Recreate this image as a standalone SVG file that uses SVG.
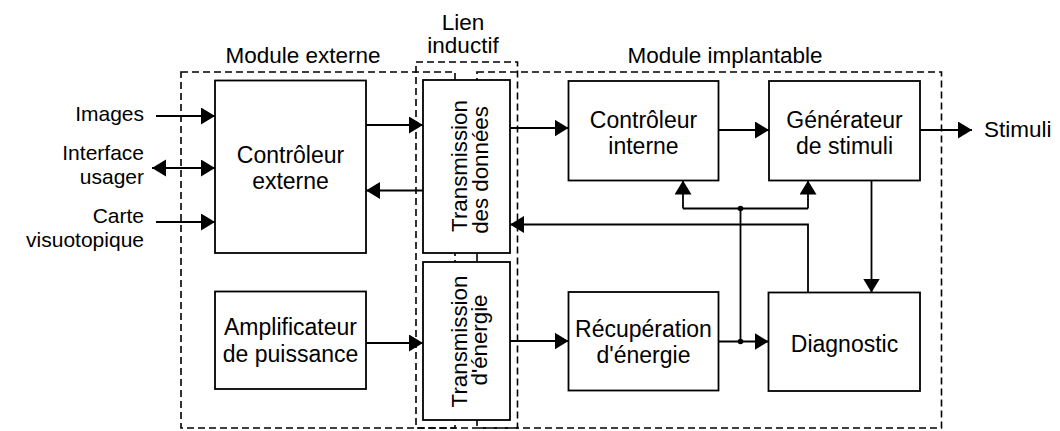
<svg xmlns="http://www.w3.org/2000/svg" width="1060" height="431" viewBox="0 0 1060 431">
<style>
  text { font-family: "Liberation Sans", Arial, Helvetica, sans-serif; font-size: 23px; fill: #000; }
  .lbl { font-size: 21px; }
  .hdr { font-size: 22.5px; }
  .rot { font-size: 22.3px; }
  .mid { text-anchor: middle; }
  .end { text-anchor: end; }
  .box { fill: #fff; stroke: #000; stroke-width: 1.8; }
  .dash { fill: none; stroke: #000; stroke-width: 1.6; stroke-dasharray: 7 4; }
  .wire { fill: none; stroke: #000; stroke-width: 1.8; }
  .arr { marker-end: url(#ah); }
  .dbl { marker-start: url(#ah); marker-end: url(#ah); }
</style>
<defs>
  <marker id="ah" markerUnits="userSpaceOnUse" markerWidth="15" markerHeight="18" refX="14" refY="8.5" orient="auto-start-reverse" viewBox="0 0 15 18">
    <path d="M0,0 L14,8.5 L0,17 Z" fill="#000"/>
  </marker>
</defs>
<rect width="1060" height="431" fill="#fff"/>

<g id="module-externe">
  <rect class="dash" x="181" y="72" width="274" height="356"/>
  <text class="hdr mid" x="303" y="62.5">Module externe</text>
</g>
<g id="module-implantable">
  <rect class="dash" x="477" y="72" width="464.5" height="356"/>
  <text class="hdr mid" x="725" y="62.5">Module implantable</text>
</g>
<g id="lien-inductif">
  <rect class="dash" x="416" y="62" width="101.5" height="366"/>
  <text class="hdr mid" x="463" y="29.5">Lien</text>
  <text class="hdr mid" x="463" y="53">inductif</text>
</g>

<g id="labels">
  <text class="lbl end" x="144" y="121">Images</text>
  <text class="lbl end" x="144" y="160">Interface</text>
  <text class="lbl end" x="144" y="183.5">usager</text>
  <text class="lbl end" x="144" y="223">Carte</text>
  <text class="lbl end" x="144" y="246.5">visuotopique</text>
  <text class="hdr" x="984" y="137">Stimuli</text>
</g>

<g id="connectors">
  <line class="wire arr" x1="156" y1="116" x2="215" y2="116"/>
  <line class="wire dbl" x1="152" y1="168" x2="215" y2="168"/>
  <line class="wire arr" x1="156" y1="222" x2="215" y2="222"/>
  <line class="wire arr" x1="366" y1="125" x2="423" y2="125"/>
  <line class="wire arr" x1="423" y1="190.5" x2="366" y2="190.5"/>
  <line class="wire arr" x1="510" y1="128" x2="568.5" y2="128"/>
  <line class="wire arr" x1="718.5" y1="130" x2="769" y2="130"/>
  <line class="wire arr" x1="920" y1="130" x2="972" y2="130"/>
  <line class="wire arr" x1="366" y1="343" x2="423" y2="343"/>
  <line class="wire arr" x1="510" y1="341" x2="568.5" y2="341"/>
  <line class="wire arr" x1="718.5" y1="341.5" x2="768.5" y2="341.5"/>
  <path class="wire" d="M740.5,341.5 L740.5,208.5 M683,208.5 L808,208.5"/>
  <path class="wire arr" d="M683,208.5 L683,180.5"/>
  <path class="wire arr" d="M808,208.5 L808,180.5"/>
  <path class="wire arr" d="M808,292.5 L808,224.5 L510,224.5"/>
  <path class="wire arr" d="M871.5,180.5 L871.5,292.5"/>
  <circle cx="740.5" cy="208.5" r="2.8" fill="#000"/>
  <circle cx="740.5" cy="341.5" r="2.8" fill="#000"/>
</g>

<g id="controleur-externe">
  <rect class="box" x="215" y="80.5" width="151" height="172.5"/>
  <text class="mid" x="290.5" y="162.5">Contrôleur</text>
  <text class="mid" x="290.5" y="188.5">externe</text>
</g>
<g id="amplificateur">
  <rect class="box" x="215" y="291.5" width="151" height="97.5"/>
  <text class="mid" x="290.5" y="335">Amplificateur</text>
  <text class="mid" x="290.5" y="361.5">de puissance</text>
</g>
<g id="transmission-donnees">
  <rect class="box" x="423" y="80" width="87" height="173"/>
  <text class="rot mid" transform="translate(466.5,166) rotate(-90)">Transmission</text>
  <text class="rot mid" transform="translate(488,170) rotate(-90)">des données</text>
</g>
<g id="transmission-energie">
  <rect class="box" x="423" y="262" width="87" height="158"/>
  <text class="rot mid" transform="translate(466.5,341.5) rotate(-90)">Transmission</text>
  <text class="rot mid" transform="translate(487,340) rotate(-90)">d'énergie</text>
</g>
<g id="controleur-interne">
  <rect class="box" x="568.5" y="81" width="150" height="99.5"/>
  <text class="mid" x="643.5" y="127.5">Contrôleur</text>
  <text class="mid" x="643.5" y="154">interne</text>
</g>
<g id="generateur">
  <rect class="box" x="769" y="81" width="151" height="99.5"/>
  <text class="mid" x="844.5" y="127.5">Générateur</text>
  <text class="mid" x="844.5" y="154">de stimuli</text>
</g>
<g id="recuperation">
  <rect class="box" x="568.5" y="292" width="150" height="98.5"/>
  <text class="mid" x="643.5" y="336.5">Récupération</text>
  <text class="mid" x="643.5" y="363">d'énergie</text>
</g>
<g id="diagnostic">
  <rect class="box" x="768.5" y="292.5" width="151.5" height="98.5"/>
  <text class="mid" x="844.5" y="352">Diagnostic</text>
</g>
</svg>
